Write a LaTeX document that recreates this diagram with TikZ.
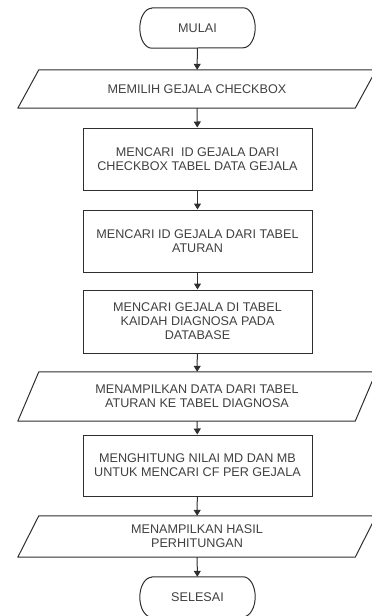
\documentclass[tikz,border=0pt]{standalone}
\usepackage{fontspec}
\setmainfont{Liberation Sans}
\usetikzlibrary{arrows.meta}
\definecolor{lineC}{HTML}{2E2E2E}
\definecolor{txtC}{HTML}{404040}
\tikzset{
  base/.style={draw=none, align=center, inner sep=0pt, text=txtC,
    font=\fontsize{12.6}{14}\selectfont},
  procbox/.style={base, draw=lineC, line width=1pt, minimum width=229pt},
  iobox/.style={base, minimum width=337pt},
  termbox/.style={base, minimum width=115pt, minimum height=40pt},
  arr/.style={draw=lineC, line width=1pt, -{Triangle[length=6pt,width=7pt]}},
  outl/.style={draw=lineC, line width=1pt, line join=round},
}
\newcommand{\ioshape}[1]{%
  \draw[outl] ([xshift=10.5pt]#1.north west) -- ([xshift=10.5pt]#1.north east)
    -- ([xshift=-10.5pt]#1.south east) -- ([xshift=-10.5pt]#1.south west) -- cycle;}
\newcommand{\termshape}[1]{%
  \draw[outl] ([xshift=12pt]#1.north west) -- ([xshift=-12pt]#1.north east)
    arc[start angle=90, end angle=-90, x radius=12pt, y radius=20pt]
    -- ([xshift=12pt]#1.south west)
    arc[start angle=270, end angle=90, x radius=12pt, y radius=20pt] -- cycle;}
\begin{document}
\begin{tikzpicture}[x=1pt,y=-1pt]
\useasboundingbox (0,0) rectangle (372,616);
\clip (0,0) rectangle (372,616);

\node[termbox] (mulai) at (197.5,28) {MULAI};
\termshape{mulai}

\node[iobox, minimum height=38pt] (p1) at (197,89) {MEMILIH GEJALA CHECKBOX};
\ioshape{p1}

\node[procbox, minimum height=62pt] (b2) at (197.5,159)
  {MENCARI \ ID GEJALA DARI\\CHECKBOX TABEL DATA GEJALA};

\node[procbox, minimum height=62pt] (b3) at (197.5,241)
  {MENCARI ID GEJALA DARI TABEL\\ATURAN};

\node[procbox, minimum height=63pt] (b4) at (197.5,321.5)
  {MENCARI GEJALA DI TABEL\\KAIDAH DIAGNOSA PADA\\DATABASE};

\node[iobox, minimum height=49pt] (p2) at (197,396.5)
  {MENAMPILKAN DATA DARI TABEL\\ATURAN KE TABEL DIAGNOSA};
\ioshape{p2}

\node[procbox, minimum height=61pt] (b5) at (197.5,465.5)
  {MENGHITUNG NILAI MD DAN MB\\UNTUK MENCARI CF PER GEJALA};

\node[iobox, minimum height=41pt] (p3) at (197,536.5)
  {MENAMPILKAN HASIL\\PERHITUNGAN};
\ioshape{p3}

\node[termbox] (selesai) at (197.5,597) {SELESAI};
\termshape{selesai}

\draw[arr] (mulai) -- (p1);
\draw[arr] (p1) -- (b2);
\draw[arr] (b2) -- (b3);
\draw[arr] (b3) -- (b4);
\draw[arr] (b4) -- (p2);
\draw[arr] (p2) -- (b5);
\draw[arr] (b5) -- (p3);
\draw[arr] (p3) -- (selesai);
\end{tikzpicture}
\end{document}
